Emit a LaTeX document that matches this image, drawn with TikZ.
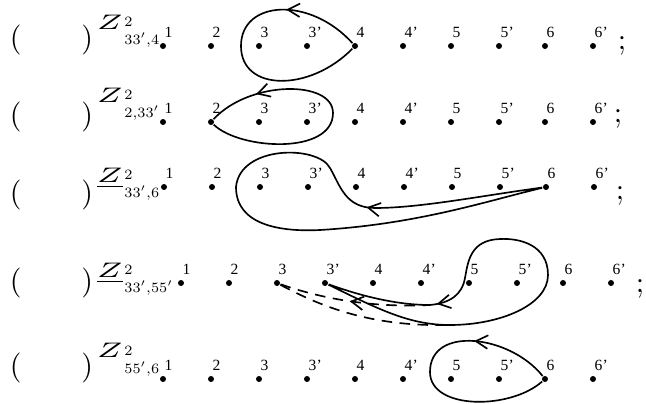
\documentclass[tikz,border=0pt]{standalone}
\usepackage{fontspec}
\usepackage{graphicx}
\newfontfamily\lblfont{Liberation Serif}
\usetikzlibrary{arrows.meta,decorations.markings}
\tikzset{every picture/.style={line width=0.55pt}}
\tikzset{
  dot/.style={circle,fill,inner sep=0pt,minimum size=2pt},
  lbl/.style={font=\lblfont\fontsize{5.2}{6}\selectfont,inner sep=0pt,anchor=south west,xshift=0.3pt,yshift=1.2pt},
  paren/.style={inner sep=0pt,anchor=base west},
  zlab/.style={inner sep=0pt,anchor=base west},
  semi/.style={inner sep=0pt,anchor=base west},
  barb/.tip={Straight Barb[length=4pt,width=4.5pt]},
  arrowat/.style={postaction={decorate,decoration={markings,mark=at position #1 with {\arrow{barb}}}}},
  arrowback/.style={postaction={decorate,decoration={markings,mark=at position #1 with {\arrowreversed{barb}}}}},
  dashes/.style={dash pattern=on 3.5pt off 2.5pt}
}
\newcommand{\zpow}[2]{\scalebox{1.45}[1]{$\scriptstyle#1$}\kern0.6pt\rlap{\raisebox{0.7pt}{\scalebox{0.68}{$\scriptstyle 2$}}}\raisebox{-5.3pt}{\scalebox{0.68}{$\scriptstyle#2$}}}

\begin{document}
\begin{tikzpicture}[x=0.3333pt,y=-0.3333pt]
    \useasboundingbox (0,0) rectangle (646,404);
    % points of the five rows
    \foreach \r/\y/\dx in {1/46/0,2/122/0,3/187/1,4/283/18,5/379/0}
      \foreach \n/\x/\lab in {1/163/1,2/211/2,3/259/3,3p/307/3’,4/355/4,4p/403/4’,5/451/5,5p/499/5’,6/545/6,6p/593/6’}
        \node[dot,label={[lbl]above:\lab}] (r\r-\n) at (\x+\dx,\y) {};
    % brackets and exponents
    \node[paren] (pa1) at (9,47.5) {$(\qquad)$};
    \node[paren] (pa2) at (9,124.5) {$(\qquad)$};
    \node[paren] (pa3) at (9,202.5) {$(\qquad)$};
    \node[paren] (pa4) at (9,290.5) {$(\qquad)$};
    \node[paren] (pa5) at (9,375.5) {$(\qquad)$};
    \node[zlab] (z1) at (96,29) {\zpow{Z}{33',4}};
    \node[zlab] (z2) at (96,102) {\zpow{Z}{2,33'}};
    \node[zlab] (z3) at (96,182) {\zpow{\underline{Z}}{33',6}};
    \node[zlab] (z4) at (96,277) {\zpow{\underline{Z}}{33',55'}};
    \node[zlab] (z5) at (96,358) {\zpow{Z}{55',6}};
    \node[semi] (s1) at (617,49) {;};
    \node[semi] (s2) at (613,122) {;};
    \node[semi] (s3) at (615,199) {;};
    \node[semi] (s4) at (635,292) {;};
    % row 1
    \draw[arrowat=0.27] (r1-4) .. controls (310,-4) and (241,0) .. (241,46) .. controls (241,92) and (310,92) .. (r1-4);
    % row 2
    \draw[arrowat=0.82] (r2-2) .. controls (240,150) and (333,155) .. (333,113) .. controls (333,80) and (250,80) .. (r2-2);
    % row 3
    \draw[arrowat=0.26] (r3-6) .. controls (480,196) and (420,208) .. (375,208) .. controls (345,208) and (340,185) .. (330,168) .. controls (318,145) and (240,145) .. (236,187) .. controls (236,225) and (280,232) .. (320,230) .. controls (420,224) and (490,200) .. (r3-6);
    % row 4
    \coordinate (m4a) at (430,305);
    \coordinate (m4b) at (450,325);
    \draw[arrowat=0.79] (r4-3p) .. controls (380,310) and (410,325) .. (m4b) .. controls (500,325) and (548,305) .. (548,275) .. controls (548,245) and (520,238) .. (500,239) .. controls (470,240) and (468,262) .. (465,278) .. controls (462,295) and (450,303) .. (m4a) .. controls (390,305) and (350,292) .. (r4-3p);
    \draw[dashes,arrowback=0.47] (r4-3) .. controls (320,298) and (370,308) .. (m4a);
    \draw[dashes] (r4-3) .. controls (320,306) and (370,327) .. (m4b);
    % row 5
    \draw[arrowat=0.29] (r5-6) .. controls (510,335) and (430,325) .. (430,372) .. controls (430,410) and (510,410) .. (r5-6);
\end{tikzpicture}
\end{document}
